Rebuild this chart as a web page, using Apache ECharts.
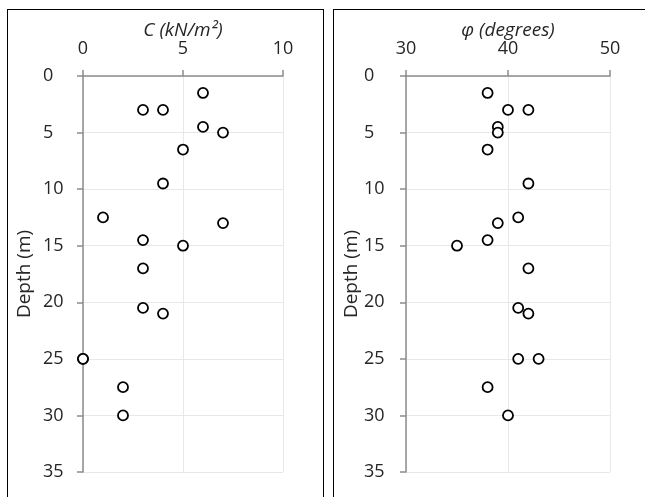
<!DOCTYPE html>
<html>
<head>
<meta charset="utf-8">
<script src="https://cdn.jsdelivr.net/npm/echarts@6/dist/echarts.min.js"></script>
<style>
  html, body { margin: 0; padding: 0; width: 645px; height: 497px; overflow: hidden; background: #fff; }
  .panel { position: absolute; border: 1px solid #000; background: #fff; }
</style>
</head>
<body>
<div id="left" class="panel" style="left:7px; top:9px; width:315px; height:500px;"></div>
<div id="right" class="panel" style="left:333px; top:9px; width:320px; height:500px;"></div>
<script>
// depth of each sample (m), shared by both panels
const depth = [1.5, 3, 3, 4.5, 5, 6.5, 9.5, 12.5, 13, 14.5, 15, 17, 20.5, 21, 25, 25, 27.5, 30];
// cohesion C (kN/m2)
const cohesion = [6, 3, 4, 6, 7, 5, 4, 1, 7, 3, 5, 3, 3, 4, 0, 0, 2, 2];
// friction angle phi (degrees)
const phi = [38, 40, 42, 39, 39, 38, 42, 41, 39, 38, 35, 42, 41, 42, 41, 43, 38, 40];

const depthTicks = {min: 0, max: 35, interval: 5};
const textColor = '#262626';
const font = '"Open Sans", sans-serif';

function makeOption(xName, xVals, xMin, xMax, xInterval, gridLeft, gridWidth, labelMargin, nameGap) {
    return {
        animation: false,
        grid: {left: gridLeft, top: 66, width: gridWidth, height: 396, containLabel: false, outerBoundsMode: 'none'},
        xAxis: {
            type: 'value',
            position: 'top',
            min: xMin,
            max: xMax,
            interval: xInterval,
            name: xName,
            nameLocation: 'middle',
            nameGap: 36,
            nameMoveOverlap: false,
            nameTextStyle: {color: textColor, fontFamily: font, fontSize: 19, fontStyle: 'italic'},
            axisLine: {show: true, lineStyle: {color: '#8c8c8c', width: 1.5}},
            axisTick: {show: true, inside: false, length: 6, lineStyle: {color: '#8c8c8c', width: 1.5}},
            axisLabel: {color: textColor, fontFamily: font, fontSize: 18, margin: 18},
            splitLine: {show: true, lineStyle: {color: '#e8e8e8', width: 1}}
        },
        yAxis: {
            type: 'value',
            inverse: true,
            min: depthTicks.min,
            max: depthTicks.max,
            interval: depthTicks.interval,
            name: 'Depth (m)',
            nameLocation: 'middle',
            nameGap: nameGap,
            nameMoveOverlap: false,
            nameTextStyle: {color: textColor, fontFamily: font, fontSize: 19},
            axisLine: {show: true, lineStyle: {color: '#8c8c8c', width: 1.5}},
            axisTick: {show: true, inside: false, length: 6, lineStyle: {color: '#8c8c8c', width: 1.5}},
            axisLabel: {color: textColor, fontFamily: font, fontSize: 18, margin: labelMargin, align: 'left'},
            splitLine: {show: true, lineStyle: {color: '#e8e8e8', width: 1}}
        },
        series: [{
            type: 'scatter',
            symbol: 'circle',
            symbolSize: 10,
            clip: false,
            itemStyle: {color: '#fff', borderColor: '#000', borderWidth: 1.8, opacity: 1},
            data: xVals.map((v, i) => [v, depth[i]])
        }]
    };
}

let leftChart = echarts.init(document.getElementById('left'));
leftChart.setOption(makeOption('C (kN/m²)', cohesion, 0, 10, 5, 75, 200, 40, 49));

let rightChart = echarts.init(document.getElementById('right'));
rightChart.setOption(makeOption('φ (degrees)', phi, 30, 50, 10, 72, 204, 42, 45));
</script>
</body>
</html>
